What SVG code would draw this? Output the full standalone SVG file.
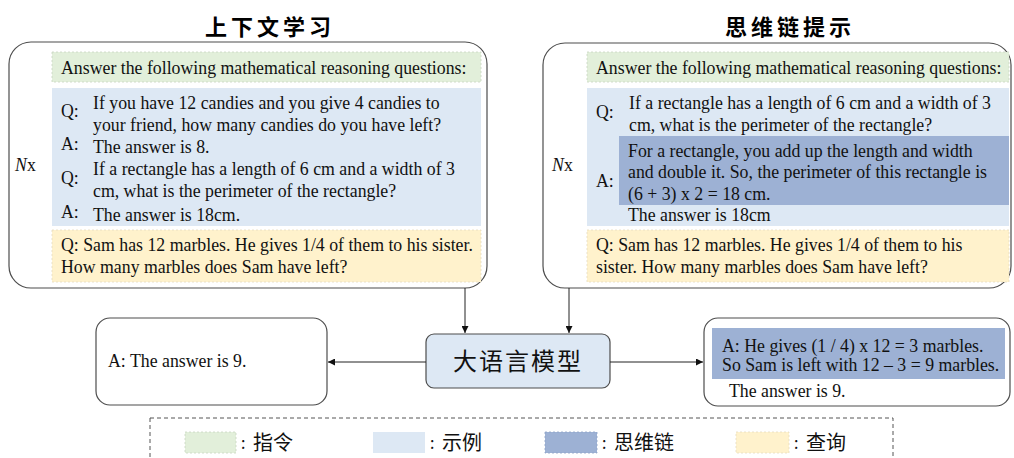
<svg xmlns="http://www.w3.org/2000/svg" width="1014" height="458" viewBox="0 0 1014 458">
<defs>
<style>
.panel{fill:#ffffff;stroke:#4d4d4d;stroke-width:1.2}
.ins{fill:#e2efda;stroke:#c9d6c2;stroke-width:0.8;stroke-dasharray:2 2}
.ex{fill:#dde8f4}
.cot{fill:#9db1d4}
.qry{fill:#fff2cc;stroke:#e6dcc0;stroke-width:0.8;stroke-dasharray:2 2}
.t{font-family:"Liberation Serif","Times New Roman",serif;font-size:17.8px;fill:#111}
.title{font-family:"Noto Sans CJK SC",sans-serif;font-size:22px;font-weight:700;fill:#000;letter-spacing:4px}
.cjk{font-family:"Noto Sans CJK SC",sans-serif;fill:#111}
.conn{stroke:#222;stroke-width:1;fill:none}
</style>
<marker id="ah" viewBox="0 0 10 10" refX="10" refY="5" markerWidth="7" markerHeight="7" markerUnits="userSpaceOnUse" orient="auto">
<path d="M0,0 L10,5 L0,10 z" fill="#111"/>
</marker>
</defs>

<g id="icl">
<text class="title" x="270" y="35" text-anchor="middle">上下文学习</text>
<rect class="panel" x="9" y="42" width="478" height="246" rx="22"/>
<text class="t" x="15" y="171"><tspan font-style="italic">N</tspan>x</text>
<rect class="ins" x="52" y="52" width="429" height="30"/>
<text class="t" x="61" y="74">Answer the following mathematical reasoning questions:</text>
<rect class="ex" x="52" y="88" width="429" height="138"/>
<text class="t" x="61" y="117">Q:</text>
<text class="t" x="93" y="109">If you have 12 candies and you give 4 candies to</text>
<text class="t" x="93" y="131">your friend, how many candies do you have left?</text>
<text class="t" x="61" y="150">A:</text>
<text class="t" x="93" y="153">The answer is 8.</text>
<text class="t" x="61" y="184">Q:</text>
<text class="t" x="93" y="175">If a rectangle has a length of 6 cm and a width of 3</text>
<text class="t" x="93" y="197">cm, what is the perimeter of the rectangle?</text>
<text class="t" x="61" y="218">A:</text>
<text class="t" x="93" y="221">The answer is 18cm.</text>
<rect class="qry" x="52" y="230" width="429" height="52"/>
<text class="t" x="61" y="251">Q: Sam has 12 marbles. He gives 1/4 of them to his sister.</text>
<text class="t" x="61" y="273">How many marbles does Sam have left?</text>
</g>

<g id="cot">
<text class="title" x="790" y="35" text-anchor="middle">思维链提示</text>
<rect class="panel" x="543" y="43" width="468" height="245" rx="22"/>
<text class="t" x="552" y="171"><tspan font-style="italic">N</tspan>x</text>
<rect class="ins" x="587" y="52" width="422" height="30"/>
<text class="t" x="596" y="74">Answer the following mathematical reasoning questions:</text>
<rect class="ex" x="587" y="88" width="422" height="138"/>
<rect class="cot" x="619" y="136" width="390" height="69"/>
<text class="t" x="596" y="118">Q:</text>
<text class="t" x="629" y="109">If a rectangle has a length of 6 cm and a width of 3</text>
<text class="t" x="629" y="131">cm, what is the perimeter of the rectangle?</text>
<text class="t" x="596" y="187">A:</text>
<text class="t" x="628" y="157">For a rectangle, you add up the length and width</text>
<text class="t" x="628" y="178">and double it. So, the perimeter of this rectangle is</text>
<text class="t" x="628" y="200">(6 + 3) x 2 = 18 cm.</text>
<text class="t" x="628" y="221">The answer is 18cm</text>
<rect class="qry" x="587" y="230" width="422" height="52"/>
<text class="t" x="596" y="251">Q: Sam has 12 marbles. He gives 1/4 of them to his</text>
<text class="t" x="596" y="273">sister. How many marbles does Sam have left?</text>
</g>

<g id="llm">
<rect x="426" y="334" width="184" height="54" rx="8" fill="#dde8f4" stroke="#4d4d4d" stroke-width="1.2"/>
<text class="cjk" x="518" y="370" text-anchor="middle" font-size="24" letter-spacing="2">大语言模型</text>
</g>

<g id="icl-answer">
<rect class="panel" x="96" y="318" width="231" height="87" rx="14"/>
<text class="t" x="108" y="367">A: The answer is 9.</text>
</g>

<g id="cot-answer">
<rect class="panel" x="704" y="318" width="306" height="88" rx="14"/>
<rect class="cot" x="712" y="328" width="293" height="51"/>
<text class="t" x="722" y="352">A: He gives (1 / 4) x 12 = 3 marbles.</text>
<text class="t" x="722" y="371">So Sam is left with 12 – 3 = 9 marbles.</text>
<text class="t" x="729" y="397">The answer is 9.</text>
</g>

<g id="connectors">
<line class="conn" x1="465" y1="288" x2="465" y2="333" marker-end="url(#ah)"/>
<line class="conn" x1="569" y1="288" x2="569" y2="333" marker-end="url(#ah)"/>
<line class="conn" x1="426" y1="362" x2="328" y2="362" marker-end="url(#ah)"/>
<line class="conn" x1="610" y1="362" x2="703" y2="362" marker-end="url(#ah)" stroke="#555"/>
</g>

<g id="legend">
<rect x="150" y="418" width="743" height="50" fill="none" stroke="#555" stroke-width="1" stroke-dasharray="4 3"/>
<rect class="ins" x="185" y="432" width="51" height="21"/>
<text class="cjk" x="241" y="449" font-size="16">:</text>
<text class="cjk" x="253" y="450" font-size="20">指令</text>
<rect class="ex" x="373" y="432" width="52" height="21"/>
<text class="cjk" x="430" y="449" font-size="16">:</text>
<text class="cjk" x="442" y="450" font-size="20">示例</text>
<rect class="cot" x="545" y="432" width="52" height="21" stroke="#8ea2c6" stroke-width="0.8" stroke-dasharray="2 2"/>
<text class="cjk" x="602" y="449" font-size="16">:</text>
<text class="cjk" x="614" y="450" font-size="20">思维链</text>
<rect class="qry" x="736" y="432" width="53" height="21"/>
<text class="cjk" x="794" y="449" font-size="16">:</text>
<text class="cjk" x="806" y="450" font-size="20">查询</text>
</g>
</svg>
